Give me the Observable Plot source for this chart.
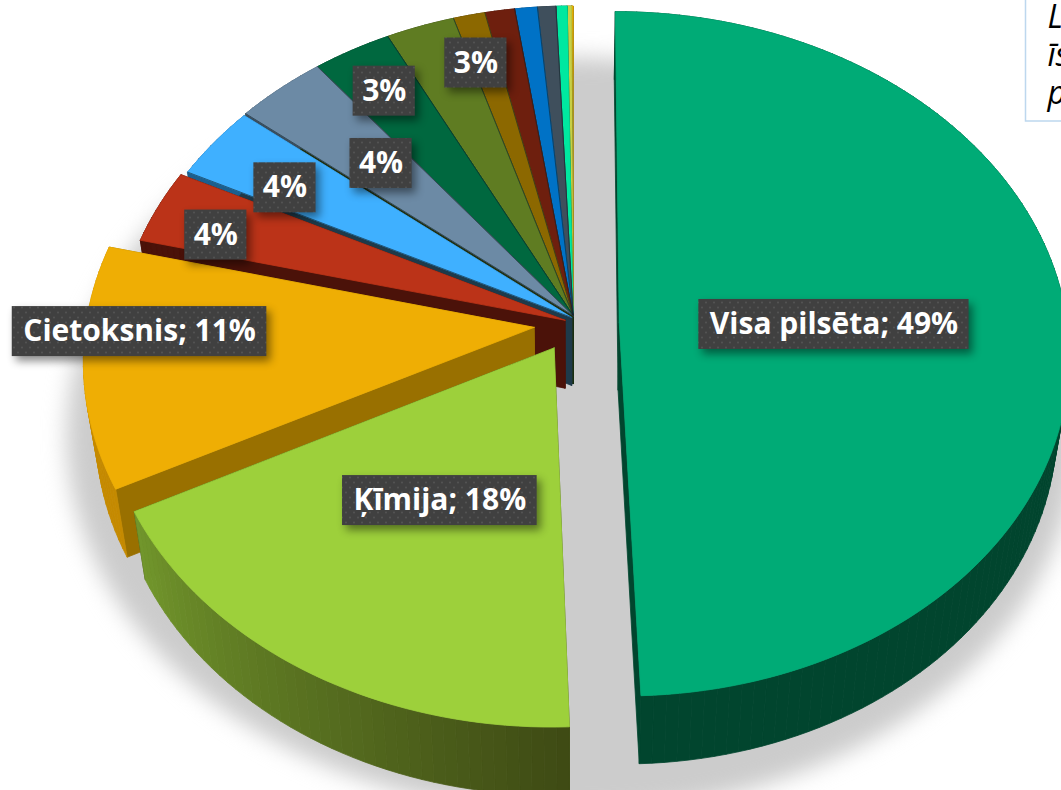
<!DOCTYPE html>
<html>
<head>
<meta charset="utf-8">
<script src="https://cdn.jsdelivr.net/npm/d3@7"></script>
<script src="https://cdn.jsdelivr.net/npm/@observablehq/plot@0.6"></script>
<style>
html,body{margin:0;padding:0;background:#fff;overflow:hidden}
svg{display:block}
</style>
</head>
<body>
<div id="chart"></div>
<script>
// Data: shares (percent), clockwise from 12 o'clock
const categories = ["Visa pilsēta","Ķīmija","Cietoksnis","d","e","f","g","h","i","j","k","l","m","n","o"];
const values = [49.4,18.0,11.4,3.5,3.5,3.6,3.1,2.7,1.25,1.17,0.89,0.72,0.44,0.17,0.06];
const showName = [true,true,true,false,false,false,false,false,false,false,false,false,false,false,false];
const showLabel = [true,true,true,true,true,true,true,true,false,false,false,false,false,false,false];
const noteLines = ["L","īs","p"];

// Style
const topColors = ["#00AB76","#9DD03B","#EFAE04","#BB3318","#3FB0FF","#6C8AA5","#00683F","#5F7C22","#8C6800","#6E1F0E","#0072C6","#3F4F5C","#00E8A0","#C8CF45","#FFC000"];
const sideColors = ["#01452E","#72972C","#C58A00","#4B1209","#1B5F8F","#3A4C5C","#00391F","#2F3F10","#463400","#370F07","#003A63","#1F2830","#007050","#605F20","#806000"];
const faceColors = ["#01452E","#3E4A14","#997000","#4B1209","#1E3A4A","#203010","#00391F","#24330D","#463400","#370F07","#14456A","#1D3A42","#203010","#203010","#203010"];
const sideEndColor = [null,"#3E4A14",null,null,null,null,null,null,null,null,null,null,null,null,null];
// explosion of each slice in disc units
const explodeU = [0.103,-0.042,-0.087,-0.018,-0.003,0,0,0,0,0,0,0,0,0,0];
const explodeV = [0.02,0.095,0.035,0.014,0.006,0,0,0,0,0,0,0,0,0,0];
const labelRadius = [0.48,0.51,0.87,0.85,0.82,0.62,0.82,0.82];
const labelDx = [0,8,-3,-2,9,-6,-5,30];
const labelDy = [5,-5,-30,12,15,-8,-4,-12];

// Projection of the tilted disc
const W = 1061, H = 790, cx = 572.6, cy = 315, Rx = 447, Ry = 338, k = 0.092, depth = 68, depthScale = 0.975;
const project = (u,v) => { const w = 1/(1-k*v); return [cx+Rx*u*w, cy+Ry*v*w]; };
const lower = ([x,y]) => [cx+(x-cx)*depthScale, y+depth];

const total = d3.sum(values);
let cum = 0;
const slices = values.map((v,i) => { const a0 = cum/total*2*Math.PI; cum += v; const a1 = cum/total*2*Math.PI; return {i,v,a0,a1}; });
const pt = (s,a,r=1) => project(explodeU[s.i]+r*Math.sin(a), explodeV[s.i]-r*Math.cos(a));

const polys = []; let pid = 0;
const addPoly = (pts,color) => { const id = pid++; [...pts,pts[0]].forEach(([x,y]) => polys.push({id,x,y,color})); };
const arcAngles = (a0,a1,step=Math.PI/120) => { const n = Math.max(1,Math.ceil((a1-a0)/step)); return d3.range(n+1).map(j => a0+(a1-a0)*j/n); };

// paint order: small slices first, the big exploded ones on top
[...slices].reverse().forEach(s => {
  const apex = pt(s,0,0), apexB = lower(apex);
  const e0 = pt(s,s.a0), e1 = pt(s,s.a1);
  addPoly([apex,e1,lower(e1),apexB],faceColors[s.i]);
  addPoly([apex,e0,lower(e0),apexB],faceColors[s.i]);
  const ang = arcAngles(s.a0,s.a1);
  const col = sideEndColor[s.i] ? d3.interpolateRgb(sideEndColor[s.i],sideColors[s.i]) : () => sideColors[s.i];
  ang.slice(1).forEach((a,j) => {
    const p = pt(s,ang[j]), q = pt(s,a);
    addPoly([p,q,lower(q),lower(p)],col((j+.5)/(ang.length-1)));
  });
  addPoly([apex,...ang.map(a => pt(s,a))],topColors[s.i]);
});

// soft ground shadow
const shadow = d3.range(0,2*Math.PI,Math.PI/60).map(a => ({x:571+505*Math.sin(a),y:435-378*Math.cos(a)}));

// hairlines between the small slices
const edges = slices.slice(4,13).map(s => { const [x1,y1] = pt(s,0,0), [x2,y2] = pt(s,s.a0); return {x1,y1,x2,y2}; });

// labels
const labelFont = "700 30px 'Open Sans'";
const ctx = document.createElement("canvas").getContext("2d");
ctx.font = labelFont;
const labels = slices.filter(s => showLabel[s.i]).map(s => {
  const mid = (s.a0+s.a1)/2;
  const [px,py] = pt(s,mid,labelRadius[s.i]);
  const text = (showName[s.i] ? categories[s.i]+"; " : "")+Math.round(s.v)+"%";
  const x = px+labelDx[s.i], y = py+labelDy[s.i], hw = ctx.measureText(text).width/2+(showName[s.i]?11:9);
  return {text,x,y,x1:x-hw,x2:x+hw,y1:y-25,y2:y+25};
});

const note = {x1:1025.5,x2:1100,y1:-5,y2:121,tx:1047,ty:[27,65,103]};

const chart = Plot.plot({
  width:W,height:H,margin:0,
  x:{domain:[0,W],range:[0,W],axis:null},
  y:{domain:[0,H],range:[0,H],axis:null},
  color:{type:"identity"},
  style:{background:"#fff"},
  marks:[
    Plot.line(shadow,{x:"x",y:"y",fill:"#cccccc",stroke:"none",imageFilter:"blur(11px)"}),
    Plot.line(polys,{x:"x",y:"y",z:"id",fill:"color",stroke:"color",strokeWidth:0.8,curve:"linear"}),
    Plot.link(edges,{x1:"x1",y1:"y1",x2:"x2",y2:"y2",stroke:"#13242c",strokeOpacity:0.6,strokeWidth:1}),
    Plot.rect(labels,{x1:"x1",x2:"x2",y1:"y1",y2:"y2",fill:"url(#dots)",imageFilter:"drop-shadow(4px 5px 4px rgba(0,0,0,.45))"}),
    Plot.text(labels,{x:"x",y:"y",text:"text",fill:"#fff",fontFamily:"'Open Sans'",fontWeight:700,fontSize:30,textAnchor:"middle",lineAnchor:"middle"}),
    Plot.rect([note],{x1:"x1",x2:"x2",y1:"y1",y2:"y2",fill:"#fff",stroke:"#BDD7EE",strokeWidth:1.5}),
    Plot.text(noteLines,{x:()=>note.tx,y:(d,i)=>note.ty[i],text:d=>d,fontFamily:"'Open Sans'",fontStyle:"italic",fontWeight:400,fontSize:32,fill:"#000",textAnchor:"start",lineAnchor:"bottom"})
  ]
});

const ns = "http://www.w3.org/2000/svg";
const defs = document.createElementNS(ns,"defs");
defs.innerHTML = `<pattern id="dots" width="8" height="10" patternUnits="userSpaceOnUse"><rect width="8" height="10" fill="#404040"/><circle cx="2" cy="2.5" r="0.9" fill="#565656"/><circle cx="6" cy="7.5" r="0.9" fill="#565656"/></pattern>`;
chart.prepend(defs);
document.getElementById("chart").append(chart);
</script>
</body>
</html>
